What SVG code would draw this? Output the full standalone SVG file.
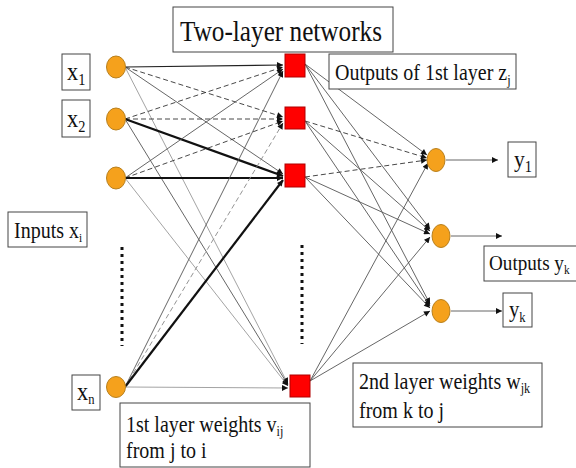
<svg xmlns="http://www.w3.org/2000/svg" width="576" height="468" viewBox="0 0 576 468">
  <style>
    .lbl { fill: #fff; stroke: #444; stroke-width: 1; }
    .txt { font-family: "Liberation Serif", "Times New Roman", serif; fill: #111; }
    .inp { fill: #F5A11C; stroke: #B8801E; stroke-width: 1; }
    .hid { fill: #FF0000; stroke: #B00000; stroke-width: 1; }
    .e-dark { stroke: #222; stroke-width: 1.1; fill: none; }
    .e-gray { stroke: #555; stroke-width: 0.9; fill: none; }
    .e-light { stroke: #999; stroke-width: 0.9; fill: none; }
    .e-dash { stroke: #333; stroke-width: 0.9; stroke-dasharray: 5 3; fill: none; }
    .e-dashl { stroke: #888; stroke-width: 0.9; stroke-dasharray: 5 3; fill: none; }
    .e-thick { stroke: #111; stroke-width: 2.2; fill: none; }
    .dots { stroke: #111; stroke-width: 3; stroke-dasharray: 3 4; fill: none; }
  </style>
  <defs>
    <marker id="arr" viewBox="0 0 10 10" refX="10" refY="5" markerWidth="7" markerHeight="6" markerUnits="userSpaceOnUse" orient="auto">
      <path d="M0,0 L10,5 L0,10 z" fill="#111"/>
    </marker>
  </defs>

  <rect width="576" height="468" fill="#fff"/>

  <!-- connectors -->
  <g id="connectors" marker-end="url(#arr)">
    <!-- input layer to hidden layer -->
    <line class="e-dark"  x1="125" y1="67"  x2="283" y2="65"/>
    <line class="e-dash"  x1="125" y1="67"  x2="283" y2="117"/>
    <line class="e-gray"  x1="125" y1="67"  x2="283" y2="174"/>
    <line class="e-light" x1="125" y1="67"  x2="288" y2="384"/>

    <line class="e-dash"  x1="125" y1="119" x2="283" y2="67"/>
    <line class="e-dash"  x1="125" y1="119" x2="283" y2="119"/>
    <line class="e-thick" x1="125" y1="119" x2="283" y2="176"/>
    <line class="e-gray"  x1="125" y1="119" x2="288" y2="385"/>

    <line class="e-gray"  x1="125" y1="178" x2="283" y2="69"/>
    <line class="e-dash"  x1="125" y1="178" x2="283" y2="121"/>
    <line class="e-thick" x1="125" y1="178" x2="283" y2="178"/>
    <line class="e-light" x1="125" y1="178" x2="288" y2="386"/>

    <line class="e-gray"  x1="125" y1="387" x2="283" y2="71"/>
    <line class="e-dashl" x1="125" y1="387" x2="283" y2="123"/>
    <line class="e-thick" x1="125" y1="387" x2="283" y2="180"/>
    <line class="e-light" x1="125" y1="387" x2="288" y2="388"/>

    <!-- hidden layer to output layer -->
    <line class="e-gray"  x1="305" y1="64"  x2="427" y2="155"/>
    <line class="e-gray"  x1="305" y1="64"  x2="430" y2="229"/>
    <line class="e-gray"  x1="305" y1="64"  x2="430" y2="304"/>

    <line class="e-dash"  x1="305" y1="121" x2="427" y2="158"/>
    <line class="e-gray"  x1="305" y1="121" x2="430" y2="231"/>
    <line class="e-gray"  x1="305" y1="121" x2="430" y2="306"/>

    <line class="e-dash"  x1="305" y1="177" x2="427" y2="160"/>
    <line class="e-gray"  x1="305" y1="177" x2="430" y2="234"/>
    <line class="e-gray"  x1="305" y1="177" x2="430" y2="308"/>

    <line class="e-gray"  x1="310" y1="381" x2="428" y2="163"/>
    <line class="e-gray"  x1="310" y1="381" x2="430" y2="237"/>
    <line class="e-gray"  x1="310" y1="381" x2="430" y2="311"/>

    <!-- outputs leaving the network -->
    <line class="e-gray"  x1="446" y1="160" x2="498" y2="160"/>
    <line class="e-gray"  x1="451" y1="236" x2="502" y2="236"/>
    <line class="e-gray"  x1="451" y1="311" x2="502" y2="311"/>
  </g>

  <!-- ellipsis marks for the elided units -->
  <line class="dots" x1="122" y1="247" x2="122" y2="346"/>
  <line class="dots" x1="302" y1="245" x2="302" y2="344"/>

  <!-- input units -->
  <g id="x1"><ellipse class="inp" cx="116" cy="67" rx="9.5" ry="11"/></g>
  <g id="x2"><ellipse class="inp" cx="116" cy="119" rx="9.5" ry="11"/></g>
  <g id="x3"><ellipse class="inp" cx="116" cy="178" rx="9.5" ry="11"/></g>
  <g id="xn"><ellipse class="inp" cx="116" cy="387" rx="9.5" ry="10.5"/></g>

  <!-- hidden units -->
  <g id="h1"><rect class="hid" x="285" y="54" width="20" height="23"/></g>
  <g id="h2"><rect class="hid" x="285" y="107" width="20" height="22"/></g>
  <g id="h3"><rect class="hid" x="285" y="164" width="20" height="23"/></g>
  <g id="h4"><rect class="hid" x="290" y="375" width="20" height="22"/></g>

  <!-- output units -->
  <g id="o1"><ellipse class="inp" cx="436" cy="160" rx="9" ry="11.5"/></g>
  <g id="o2"><ellipse class="inp" cx="441" cy="236" rx="9" ry="11.5"/></g>
  <g id="o3"><ellipse class="inp" cx="441" cy="311" rx="9" ry="11.5"/></g>

  <!-- labels (the slide face is narrow, so glyphs are squeezed horizontally) -->
  <g id="title">
    <rect class="lbl" x="173" y="7" width="220" height="45"/>
    <text class="txt" x="180" y="41" font-size="30" textLength="202" lengthAdjust="spacingAndGlyphs">Two-layer networks</text>
  </g>
  <g id="lbl-x1">
    <rect class="lbl" x="62" y="54" width="28" height="36"/>
    <text class="txt" transform="translate(67 80) scale(0.9 1)" font-size="25">x<tspan font-size="16" dy="5">1</tspan></text>
  </g>
  <g id="lbl-x2">
    <rect class="lbl" x="62" y="100" width="28" height="37"/>
    <text class="txt" transform="translate(67 127) scale(0.9 1)" font-size="25">x<tspan font-size="16" dy="5">2</tspan></text>
  </g>
  <g id="lbl-inputs">
    <rect class="lbl" x="8" y="212" width="79" height="35"/>
    <text class="txt" transform="translate(14 238) scale(0.87 1)" font-size="23">Inputs x<tspan font-size="13" dy="4">i</tspan></text>
  </g>
  <g id="lbl-xn">
    <rect class="lbl" x="72" y="375" width="28" height="35"/>
    <text class="txt" transform="translate(77 400) scale(0.9 1)" font-size="25">x<tspan font-size="14" dy="4">n</tspan></text>
  </g>
  <g id="lbl-w1">
    <rect class="lbl" x="120" y="403" width="190" height="64"/>
    <text class="txt" transform="translate(126 432) scale(0.87 1)" font-size="23">1st layer weights v<tspan font-size="14" dy="4">ij</tspan></text>
    <text class="txt" transform="translate(126 458) scale(0.87 1)" font-size="23">from j to i</text>
  </g>
  <g id="lbl-z">
    <rect class="lbl" x="329" y="54" width="187" height="35"/>
    <text class="txt" transform="translate(335 80) scale(0.87 1)" font-size="23">Outputs of 1st layer z<tspan font-size="14" dy="5">j</tspan></text>
  </g>
  <g id="lbl-y1">
    <rect class="lbl" x="508" y="142" width="28" height="35"/>
    <text class="txt" transform="translate(514 167) scale(0.9 1)" font-size="24">y<tspan font-size="16" dy="5">1</tspan></text>
  </g>
  <g id="lbl-outputs">
    <rect class="lbl" x="484" y="246" width="95" height="35"/>
    <text class="txt" transform="translate(489 270) scale(0.87 1)" font-size="22">Outputs y<tspan font-size="13" dy="4">k</tspan></text>
  </g>
  <g id="lbl-yk">
    <rect class="lbl" x="503" y="293" width="29" height="34"/>
    <text class="txt" transform="translate(509 317) scale(0.9 1)" font-size="23">y<tspan font-size="14" dy="5">k</tspan></text>
  </g>
  <g id="lbl-w2">
    <rect class="lbl" x="353" y="363" width="189" height="64"/>
    <text class="txt" transform="translate(359 389) scale(0.87 1)" font-size="23">2nd layer weights w<tspan font-size="14" dy="4">jk</tspan></text>
    <text class="txt" transform="translate(359 418) scale(0.87 1)" font-size="23">from k to j</text>
  </g>
</svg>
